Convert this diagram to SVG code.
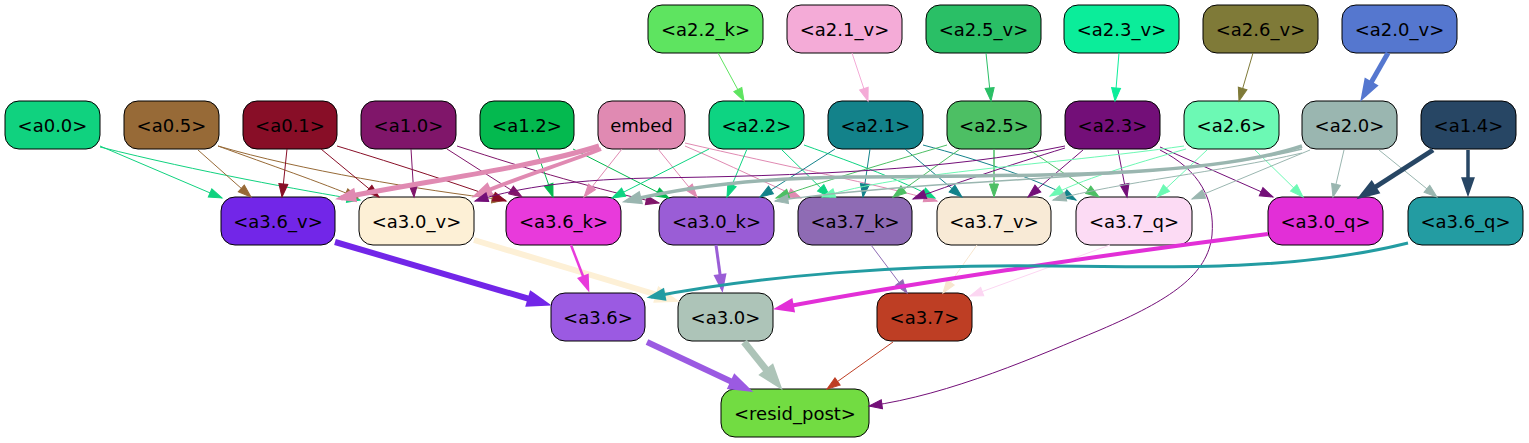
<svg xmlns="http://www.w3.org/2000/svg" width="1529" height="443" viewBox="0 0 1529 443">
<style>
.node rect{stroke:#000;stroke-width:1}
.node text{font-family:"DejaVu Sans","Liberation Sans",sans-serif;font-size:18px;text-anchor:middle;fill:#000}
#edges path{fill:none}
</style>
<defs>
<marker id="m00" viewBox="-14 -6 14 12" refX="0" refY="0" markerWidth="14" markerHeight="12" markerUnits="userSpaceOnUse" orient="auto" overflow="visible"><path d="M-13,-4.5L0,0L-13,4.5Z" fill="#10d27f" stroke="#10d27f"/></marker>
<marker id="m05" viewBox="-14 -6 14 12" refX="0" refY="0" markerWidth="14" markerHeight="12" markerUnits="userSpaceOnUse" orient="auto" overflow="visible"><path d="M-13,-4.5L0,0L-13,4.5Z" fill="#976a37" stroke="#976a37"/></marker>
<marker id="m01" viewBox="-14 -6 14 12" refX="0" refY="0" markerWidth="14" markerHeight="12" markerUnits="userSpaceOnUse" orient="auto" overflow="visible"><path d="M-13,-4.5L0,0L-13,4.5Z" fill="#880e27" stroke="#880e27"/></marker>
<marker id="m10" viewBox="-14 -6 14 12" refX="0" refY="0" markerWidth="14" markerHeight="12" markerUnits="userSpaceOnUse" orient="auto" overflow="visible"><path d="M-13,-4.5L0,0L-13,4.5Z" fill="#80166a" stroke="#80166a"/></marker>
<marker id="m12" viewBox="-14 -6 14 12" refX="0" refY="0" markerWidth="14" markerHeight="12" markerUnits="userSpaceOnUse" orient="auto" overflow="visible"><path d="M-13,-4.5L0,0L-13,4.5Z" fill="#04b94f" stroke="#04b94f"/></marker>
<marker id="mem" viewBox="-14 -6 14 12" refX="0" refY="0" markerWidth="14" markerHeight="12" markerUnits="userSpaceOnUse" orient="auto" overflow="visible"><path d="M-13,-4.5L0,0L-13,4.5Z" fill="#e08ab2" stroke="#e08ab2"/></marker>
<marker id="mem4" viewBox="-14 -6 14 12" refX="0" refY="0" markerWidth="14" markerHeight="12" markerUnits="userSpaceOnUse" orient="auto" overflow="visible"><path d="M-13,-4.5L0,0L-13,4.5Z" fill="#e08ab2" stroke="#e08ab2" stroke-width="4"/></marker>
<marker id="m22" viewBox="-14 -6 14 12" refX="0" refY="0" markerWidth="14" markerHeight="12" markerUnits="userSpaceOnUse" orient="auto" overflow="visible"><path d="M-13,-4.5L0,0L-13,4.5Z" fill="#0dd482" stroke="#0dd482"/></marker>
<marker id="m21" viewBox="-14 -6 14 12" refX="0" refY="0" markerWidth="14" markerHeight="12" markerUnits="userSpaceOnUse" orient="auto" overflow="visible"><path d="M-13,-4.5L0,0L-13,4.5Z" fill="#13828a" stroke="#13828a"/></marker>
<marker id="m25" viewBox="-14 -6 14 12" refX="0" refY="0" markerWidth="14" markerHeight="12" markerUnits="userSpaceOnUse" orient="auto" overflow="visible"><path d="M-13,-4.5L0,0L-13,4.5Z" fill="#4dbf64" stroke="#4dbf64"/></marker>
<marker id="m23" viewBox="-14 -6 14 12" refX="0" refY="0" markerWidth="14" markerHeight="12" markerUnits="userSpaceOnUse" orient="auto" overflow="visible"><path d="M-13,-4.5L0,0L-13,4.5Z" fill="#730f78" stroke="#730f78"/></marker>
<marker id="m26" viewBox="-14 -6 14 12" refX="0" refY="0" markerWidth="14" markerHeight="12" markerUnits="userSpaceOnUse" orient="auto" overflow="visible"><path d="M-13,-4.5L0,0L-13,4.5Z" fill="#6cf9b4" stroke="#6cf9b4"/></marker>
<marker id="m20" viewBox="-14 -6 14 12" refX="0" refY="0" markerWidth="14" markerHeight="12" markerUnits="userSpaceOnUse" orient="auto" overflow="visible"><path d="M-13,-4.5L0,0L-13,4.5Z" fill="#9ab6b0" stroke="#9ab6b0"/></marker>
<marker id="m20t" viewBox="-14 -6 14 12" refX="0" refY="0" markerWidth="14" markerHeight="12" markerUnits="userSpaceOnUse" orient="auto" overflow="visible"><path d="M-13,-4.5L0,0L-13,4.5Z" fill="#9ab6b0" stroke="#9ab6b0" stroke-width="3.5"/></marker>
<marker id="m14a" viewBox="-14 -6 14 12" refX="0" refY="0" markerWidth="14" markerHeight="12" markerUnits="userSpaceOnUse" orient="auto" overflow="visible"><path d="M-13,-4.5L0,0L-13,4.5Z" fill="#274664" stroke="#274664" stroke-width="5"/></marker>
<marker id="m14b" viewBox="-14 -6 14 12" refX="0" refY="0" markerWidth="14" markerHeight="12" markerUnits="userSpaceOnUse" orient="auto" overflow="visible"><path d="M-13,-4.5L0,0L-13,4.5Z" fill="#274664" stroke="#274664" stroke-width="3.5"/></marker>
<marker id="m22k" viewBox="-14 -6 14 12" refX="0" refY="0" markerWidth="14" markerHeight="12" markerUnits="userSpaceOnUse" orient="auto" overflow="visible"><path d="M-13,-4.5L0,0L-13,4.5Z" fill="#5ee460" stroke="#5ee460"/></marker>
<marker id="m21v" viewBox="-14 -6 14 12" refX="0" refY="0" markerWidth="14" markerHeight="12" markerUnits="userSpaceOnUse" orient="auto" overflow="visible"><path d="M-13,-4.5L0,0L-13,4.5Z" fill="#f4abd7" stroke="#f4abd7"/></marker>
<marker id="m25v" viewBox="-14 -6 14 12" refX="0" refY="0" markerWidth="14" markerHeight="12" markerUnits="userSpaceOnUse" orient="auto" overflow="visible"><path d="M-13,-4.5L0,0L-13,4.5Z" fill="#2abf66" stroke="#2abf66"/></marker>
<marker id="m23v" viewBox="-14 -6 14 12" refX="0" refY="0" markerWidth="14" markerHeight="12" markerUnits="userSpaceOnUse" orient="auto" overflow="visible"><path d="M-13,-4.5L0,0L-13,4.5Z" fill="#0bed9a" stroke="#0bed9a"/></marker>
<marker id="m26v" viewBox="-14 -6 14 12" refX="0" refY="0" markerWidth="14" markerHeight="12" markerUnits="userSpaceOnUse" orient="auto" overflow="visible"><path d="M-13,-4.5L0,0L-13,4.5Z" fill="#7f7a38" stroke="#7f7a38"/></marker>
<marker id="m20v" viewBox="-14 -6 14 12" refX="0" refY="0" markerWidth="14" markerHeight="12" markerUnits="userSpaceOnUse" orient="auto" overflow="visible"><path d="M-13,-4.5L0,0L-13,4.5Z" fill="#5577cf" stroke="#5577cf" stroke-width="5"/></marker>
<marker id="m36v" viewBox="-14 -6 14 12" refX="0" refY="0" markerWidth="14" markerHeight="12" markerUnits="userSpaceOnUse" orient="auto" overflow="visible"><path d="M-13,-4.5L0,0L-13,4.5Z" fill="#7226e8" stroke="#7226e8" stroke-width="6"/></marker>
<marker id="m30v" viewBox="-14 -6 14 12" refX="0" refY="0" markerWidth="14" markerHeight="12" markerUnits="userSpaceOnUse" orient="auto" overflow="visible"><path d="M-13,-4.5L0,0L-13,4.5Z" fill="#fdf0d6" stroke="#fdf0d6" stroke-width="6"/></marker>
<marker id="m36k" viewBox="-14 -6 14 12" refX="0" refY="0" markerWidth="14" markerHeight="12" markerUnits="userSpaceOnUse" orient="auto" overflow="visible"><path d="M-13,-4.5L0,0L-13,4.5Z" fill="#e83adb" stroke="#e83adb" stroke-width="2.5"/></marker>
<marker id="m30k" viewBox="-14 -6 14 12" refX="0" refY="0" markerWidth="14" markerHeight="12" markerUnits="userSpaceOnUse" orient="auto" overflow="visible"><path d="M-13,-4.5L0,0L-13,4.5Z" fill="#9a5dd6" stroke="#9a5dd6" stroke-width="3"/></marker>
<marker id="m37k" viewBox="-14 -6 14 12" refX="0" refY="0" markerWidth="14" markerHeight="12" markerUnits="userSpaceOnUse" orient="auto" overflow="visible"><path d="M-13,-4.5L0,0L-13,4.5Z" fill="#8e6bb4" stroke="#8e6bb4"/></marker>
<marker id="m37v" viewBox="-14 -6 14 12" refX="0" refY="0" markerWidth="14" markerHeight="12" markerUnits="userSpaceOnUse" orient="auto" overflow="visible"><path d="M-13,-4.5L0,0L-13,4.5Z" fill="#f7e6cf" stroke="#f7e6cf"/></marker>
<marker id="m37q" viewBox="-14 -6 14 12" refX="0" refY="0" markerWidth="14" markerHeight="12" markerUnits="userSpaceOnUse" orient="auto" overflow="visible"><path d="M-13,-4.5L0,0L-13,4.5Z" fill="#fcd6f2" stroke="#fcd6f2"/></marker>
<marker id="m30q" viewBox="-14 -6 14 12" refX="0" refY="0" markerWidth="14" markerHeight="12" markerUnits="userSpaceOnUse" orient="auto" overflow="visible"><path d="M-13,-4.5L0,0L-13,4.5Z" fill="#e22fd7" stroke="#e22fd7" stroke-width="4"/></marker>
<marker id="m36q" viewBox="-14 -6 14 12" refX="0" refY="0" markerWidth="14" markerHeight="12" markerUnits="userSpaceOnUse" orient="auto" overflow="visible"><path d="M-13,-4.5L0,0L-13,4.5Z" fill="#239ca2" stroke="#239ca2" stroke-width="3"/></marker>
<marker id="m36" viewBox="-14 -6 14 12" refX="0" refY="0" markerWidth="14" markerHeight="12" markerUnits="userSpaceOnUse" orient="auto" overflow="visible"><path d="M-13,-4.5L0,0L-13,4.5Z" fill="#9b5ae2" stroke="#9b5ae2" stroke-width="6"/></marker>
<marker id="m30" viewBox="-14 -6 14 12" refX="0" refY="0" markerWidth="14" markerHeight="12" markerUnits="userSpaceOnUse" orient="auto" overflow="visible"><path d="M-13,-4.5L0,0L-13,4.5Z" fill="#adc4b8" stroke="#adc4b8" stroke-width="7"/></marker>
<marker id="m37" viewBox="-14 -6 14 12" refX="0" refY="0" markerWidth="14" markerHeight="12" markerUnits="userSpaceOnUse" orient="auto" overflow="visible"><path d="M-13,-4.5L0,0L-13,4.5Z" fill="#be3e24" stroke="#be3e24"/></marker>
</defs>
<rect width="1529" height="443" fill="#ffffff"/>

<g id="nodes">
<g id="a2_2_k" class="node"><rect x="648" y="5" width="115" height="48" rx="14" fill="#5ee460"/><text x="705.5" y="35.5">&lt;a2.2_k&gt;</text></g>
<g id="a2_1_v" class="node"><rect x="787" y="5" width="115" height="48" rx="14" fill="#f4abd7"/><text x="844.5" y="35.5">&lt;a2.1_v&gt;</text></g>
<g id="a2_5_v" class="node"><rect x="926" y="5" width="115" height="48" rx="14" fill="#2abf66"/><text x="983.5" y="35.5">&lt;a2.5_v&gt;</text></g>
<g id="a2_3_v" class="node"><rect x="1064" y="5" width="115" height="48" rx="14" fill="#0bed9a"/><text x="1121.5" y="35.5">&lt;a2.3_v&gt;</text></g>
<g id="a2_6_v" class="node"><rect x="1203" y="5" width="115" height="48" rx="14" fill="#7f7a38"/><text x="1260.5" y="35.5">&lt;a2.6_v&gt;</text></g>
<g id="a2_0_v" class="node"><rect x="1342" y="5" width="115" height="48" rx="14" fill="#5577cf"/><text x="1399.5" y="35.5">&lt;a2.0_v&gt;</text></g>

<g id="a0_0" class="node"><rect x="5" y="101" width="95" height="48" rx="14" fill="#10d27f"/><text x="52.5" y="131.5">&lt;a0.0&gt;</text></g>
<g id="a0_5" class="node"><rect x="124" y="101" width="95" height="48" rx="14" fill="#976a37"/><text x="171.5" y="131.5">&lt;a0.5&gt;</text></g>
<g id="a0_1" class="node"><rect x="243" y="101" width="94" height="48" rx="14" fill="#880e27"/><text x="290" y="131.5">&lt;a0.1&gt;</text></g>
<g id="a1_0" class="node"><rect x="361" y="101" width="95" height="48" rx="14" fill="#80166a"/><text x="408.5" y="131.5">&lt;a1.0&gt;</text></g>
<g id="a1_2" class="node"><rect x="480" y="101" width="94" height="48" rx="14" fill="#04b94f"/><text x="527" y="131.5">&lt;a1.2&gt;</text></g>
<g id="embed" class="node"><rect x="598" y="101" width="87" height="48" rx="14" fill="#e08ab2"/><text x="641.5" y="131.5">embed</text></g>
<g id="a2_2" class="node"><rect x="709" y="101" width="95" height="48" rx="14" fill="#0dd482"/><text x="756.5" y="131.5">&lt;a2.2&gt;</text></g>
<g id="a2_1" class="node"><rect x="828" y="101" width="95" height="48" rx="14" fill="#13828a"/><text x="875.5" y="131.5">&lt;a2.1&gt;</text></g>
<g id="a2_5" class="node"><rect x="947" y="101" width="94" height="48" rx="14" fill="#4dbf64"/><text x="994" y="131.5">&lt;a2.5&gt;</text></g>
<g id="a2_3" class="node"><rect x="1065" y="101" width="95" height="48" rx="14" fill="#730f78"/><text x="1112.5" y="131.5">&lt;a2.3&gt;</text></g>
<g id="a2_6" class="node"><rect x="1184" y="101" width="95" height="48" rx="14" fill="#6cf9b4"/><text x="1231.5" y="131.5">&lt;a2.6&gt;</text></g>
<g id="a2_0" class="node"><rect x="1302" y="101" width="95" height="48" rx="14" fill="#9ab6b0"/><text x="1349.5" y="131.5">&lt;a2.0&gt;</text></g>
<g id="a1_4" class="node"><rect x="1421" y="101" width="95" height="48" rx="14" fill="#274664"/><text x="1468.5" y="131.5">&lt;a1.4&gt;</text></g>

<g id="a3_6_v" class="node"><rect x="221" y="197" width="114" height="48" rx="14" fill="#7226e8"/><text x="278" y="227.5">&lt;a3.6_v&gt;</text></g>
<g id="a3_0_v" class="node"><rect x="359" y="197" width="115" height="48" rx="14" fill="#fdf0d6"/><text x="416.5" y="227.5">&lt;a3.0_v&gt;</text></g>
<g id="a3_6_k" class="node"><rect x="506" y="197" width="115" height="48" rx="14" fill="#e83adb"/><text x="563.5" y="227.5">&lt;a3.6_k&gt;</text></g>
<g id="a3_0_k" class="node"><rect x="659" y="197" width="115" height="48" rx="14" fill="#9a5dd6"/><text x="716.5" y="227.5">&lt;a3.0_k&gt;</text></g>
<g id="a3_7_k" class="node"><rect x="798" y="197" width="114" height="48" rx="14" fill="#8e6bb4"/><text x="855" y="227.5">&lt;a3.7_k&gt;</text></g>
<g id="a3_7_v" class="node"><rect x="937" y="197" width="114" height="48" rx="14" fill="#f8ead6"/><text x="994" y="227.5">&lt;a3.7_v&gt;</text></g>
<g id="a3_7_q" class="node"><rect x="1076" y="197" width="116" height="48" rx="14" fill="#fcdbf4"/><text x="1134" y="227.5">&lt;a3.7_q&gt;</text></g>
<g id="a3_0_q" class="node"><rect x="1268" y="197" width="115" height="48" rx="14" fill="#e22fd7"/><text x="1325.5" y="227.5">&lt;a3.0_q&gt;</text></g>
<g id="a3_6_q" class="node"><rect x="1408" y="197" width="115" height="48" rx="14" fill="#239ca2"/><text x="1465.5" y="227.5">&lt;a3.6_q&gt;</text></g>

<g id="a3_6" class="node"><rect x="551" y="293" width="94" height="48" rx="14" fill="#9b5ae2"/><text x="598" y="323.5">&lt;a3.6&gt;</text></g>
<g id="a3_0" class="node"><rect x="678" y="293" width="95" height="48" rx="14" fill="#adc4b8"/><text x="725.5" y="323.5">&lt;a3.0&gt;</text></g>
<g id="a3_7" class="node"><rect x="877" y="293" width="95" height="48" rx="14" fill="#be3e24"/><text x="924.5" y="323.5">&lt;a3.7&gt;</text></g>
<g id="resid_post" class="node"><rect x="721" y="389" width="148" height="48" rx="14" fill="#72dc42"/><text x="795" y="419.5">&lt;resid_post&gt;</text></g>
</g>

<g id="edges">
<path d="M718,53 L744,101" stroke="#5ee460" marker-end="url(#m22k)"/>
<path d="M852,53 L868,101" stroke="#f4abd7" marker-end="url(#m21v)"/>
<path d="M986,53 L991,101" stroke="#2abf66" marker-end="url(#m25v)"/>
<path d="M1119,53 L1115,101" stroke="#0bed9a" marker-end="url(#m23v)"/>
<path d="M1253,53 L1239,101" stroke="#7f7a38" marker-end="url(#m26v)"/>
<path d="M1388,53 L1364,95" stroke="#5577cf" stroke-width="5" marker-end="url(#m20v)"/>

<g stroke="#10d27f" marker-end="url(#m00)">
<path d="M100,146 L222,198"/>
<path d="M100,147 C200,172 300,190 360,200"/>
</g>
<g stroke="#976a37" marker-end="url(#m05)">
<path d="M198,150 L251,197"/>
<path d="M218,146 C270,165 320,182 358,198"/>
<path d="M218,146 C300,170 420,190 505,200"/>
</g>
<g stroke="#880e27" marker-end="url(#m01)">
<path d="M287,149 L282,197"/>
<path d="M321,149 L379,197"/>
<path d="M337,146 C400,165 460,185 506,201"/>
</g>
<g stroke="#80166a" marker-end="url(#m10)">
<path d="M411,149 L414,197"/>
<path d="M447,149 L522,197"/>
<path d="M457,146 C530,170 600,190 659,203"/>
</g>
<g stroke="#04b94f" marker-end="url(#m12)">
<path d="M536,149 L553,197"/>
<path d="M573,149 L669,198"/>
</g>
<g stroke="#e08ab2" marker-end="url(#mem)">
<path d="M622,149 L584,197"/>
<path d="M658,149 L697,197"/>
<path d="M685,146 C730,165 770,185 801,198"/>
<path d="M685,143 C780,165 880,185 937,201"/>
</g>
<g stroke="#e08ab2" stroke-width="5" marker-end="url(#mem4)">
<path d="M599,146 C530,168 420,182 341,198"/>
<path d="M601,149 C560,165 510,180 477,195" stroke-width="4"/>
</g>
<g stroke="#0dd482" marker-end="url(#m22)">
<path d="M709,149 L612,198"/>
<path d="M747,149 L727,197"/>
<path d="M781,149 L830,197"/>
<path d="M804,145 C860,165 900,180 935,198"/>
</g>
<g stroke="#13828a" marker-end="url(#m21)">
<path d="M835,149 L760,197"/>
<path d="M870,149 L863,197"/>
<path d="M905,149 L962,197"/>
<path d="M923,145 C980,160 1040,180 1076,200"/>
</g>
<g stroke="#4dbf64" marker-end="url(#m25)">
<path d="M947,145 C880,165 820,182 776,198"/>
<path d="M960,149 L893,197"/>
<path d="M994,149 L994,197" stroke-width="1.5"/>
<path d="M1028,149 L1099,197"/>
</g>
<g stroke="#730f78" marker-end="url(#m23)">
<path d="M1065,146 C950,170 800,176 650,178 C560,180 510,190 475,201"/>
<path d="M1065,148 C1010,165 950,185 913,199"/>
<path d="M1083,150 L1028,197"/>
<path d="M1118,150 L1127,197"/>
<path d="M1160,147 L1273,197"/>
<path d="M1160,150 C1200,170 1215,200 1212,235 C1208,275 1170,300 1100,330 C1040,355 950,395 869,406"/>
</g>
<g stroke="#6cf9b4" marker-end="url(#m26)">
<path d="M1184,146 C1050,165 900,172 822,197"/>
<path d="M1186,149 C1130,165 1080,180 1050,196"/>
<path d="M1207,150 L1157,197"/>
<path d="M1255,150 L1303,197"/>
</g>
<g stroke="#9ab6b0" marker-end="url(#m20)">
<path d="M1302,149 C1180,180 950,176 775,201" stroke-width="1.5"/>
<path d="M1302,153 C1220,172 1120,182 1053,200"/>
<path d="M1310,150 L1192,199"/>
<path d="M1344,150 L1333,197"/>
<path d="M1379,150 L1437,197"/>
</g>
<path d="M1302,146 C1200,180 1000,175 850,177 C750,178 680,188 627,201" stroke="#9ab6b0" stroke-width="3.5" marker-end="url(#m20t)"/>
<path d="M1433,150 L1363,195" stroke="#274664" stroke-width="5" marker-end="url(#m14a)"/>
<path d="M1468,150 L1468,192" stroke="#274664" stroke-width="3.5" marker-end="url(#m14b)"/>

<path d="M335,242 L543,303" stroke="#7226e8" stroke-width="6" marker-end="url(#m36v)"/>
<path d="M474,240 L671,299" stroke="#fdf0d6" stroke-width="6" marker-end="url(#m30v)"/>
<path d="M571,245 L588,289" stroke="#e83adb" stroke-width="2.5" marker-end="url(#m36k)"/>
<path d="M716,245 L722,288.5" stroke="#9a5dd6" stroke-width="3" marker-end="url(#m30k)"/>
<path d="M871,245 L907,293" stroke="#8e6bb4" marker-end="url(#m37k)"/>
<path d="M977,245 L943,293" stroke="#f7e6cf" marker-end="url(#m37v)"/>
<path d="M1110,245 L970,296" stroke="#fcd6f2" marker-end="url(#m37q)"/>
<path d="M1268,234 C1100,255 900,285 779,308" stroke="#e22fd7" stroke-width="4" marker-end="url(#m30q)"/>
<path d="M1408,243 C1300,270 1180,268 1050,266 C900,264 760,276 651,297" stroke="#239ca2" stroke-width="3" marker-end="url(#m36q)"/>

<path d="M647,342 L745,388" stroke="#9b5ae2" stroke-width="6" marker-end="url(#m36)"/>
<path d="M744,342 L776,382" stroke="#adc4b8" stroke-width="7" marker-end="url(#m30)"/>
<path d="M893,342 L827,389" stroke="#be3e24" marker-end="url(#m37)"/>
</g>
</svg>
